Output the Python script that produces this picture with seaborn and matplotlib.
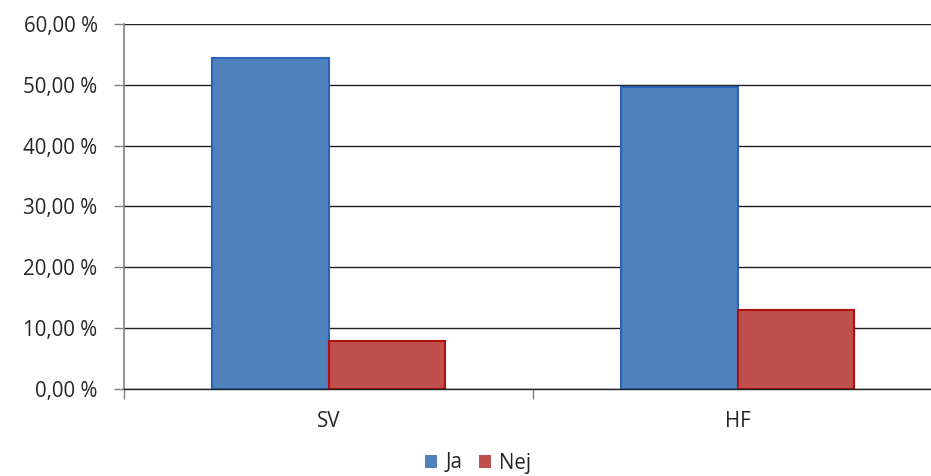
import matplotlib
matplotlib.use("Agg")
import matplotlib.pyplot as plt
import seaborn as sns
import pandas as pd
from matplotlib.ticker import FuncFormatter, MultipleLocator
from matplotlib.patches import Patch

categories = ["SV", "HF"]
series_names = ["Ja", "Nej"]
ja_values = [54.4, 49.7]
nej_values = [7.9, 13.0]

colors = {"Ja": "#4F81BD", "Nej": "#C0504D"}
edges = {"Ja": "#2A63B8", "Nej": "#B01010"}

df = pd.DataFrame({
    "Kategori": categories * 2,
    "Svar": ["Ja"] * len(categories) + ["Nej"] * len(categories),
    "Andel": ja_values + nej_values,
})

sns.set_theme(style="white")
plt.rcParams["font.family"] = ["Open Sans", "DejaVu Sans"]

FS = 14.8
fig = plt.figure(figsize=(9.31, 4.76), dpi=100)
ax = fig.add_axes([124 / 931, 1 - 389 / 476, 818 / 931, 365 / 476])

sns.barplot(data=df, x="Kategori", y="Andel", hue="Svar", order=categories,
            hue_order=series_names, palette=colors, width=0.57, ax=ax,
            saturation=1, legend=False, linewidth=0)

for patch, name in zip(ax.patches, [n for n in series_names for _ in categories]):
    patch.set_edgecolor(edges[name])
    patch.set_linewidth(1.5)

ax.set_ylim(0, 60)
ax.set_xlim(-0.5, 1.5)
ax.yaxis.set_major_locator(MultipleLocator(10))
ax.yaxis.set_major_formatter(FuncFormatter(lambda v, p: f"{v:.2f}".replace(".", ",") + " %"))
ax.grid(axis="y", color="#202020", linewidth=1)
ax.set_axisbelow(True)
for s in ["top", "right"]:
    ax.spines[s].set_visible(False)
ax.spines["left"].set_color("#808080")
ax.spines["left"].set_linewidth(1.2)
ax.spines["bottom"].set_color("#202020")
ax.spines["bottom"].set_linewidth(1)
ax.set_xlabel("")
ax.set_ylabel("")
ax.tick_params(axis="y", which="major", left=True, length=7, width=1, color="#808080",
               labelsize=FS, labelcolor="#262626", pad=12)
ax.set_xticks([0, 1])
ax.set_xticklabels(categories)
ax.set_xticks([-0.5, 0.5, 1.5], minor=True)
ax.tick_params(axis="x", which="major", bottom=False, labelsize=FS, labelcolor="#262626", pad=10)
ax.tick_params(axis="x", which="minor", bottom=True, length=7, width=1, color="#808080")

handles = [Patch(facecolor=colors[n], edgecolor="none", label=n) for n in series_names]
fig.legend(handles=handles, loc="center", bbox_to_anchor=(478 / 931, 1 - 463 / 476), ncol=2,
           frameon=False, fontsize=FS, handlelength=0.6, handleheight=0.6,
           handletextpad=0.4, columnspacing=0.8, labelcolor="#262626",
           borderpad=0.1)

fig.savefig("out.png", dpi=100)
